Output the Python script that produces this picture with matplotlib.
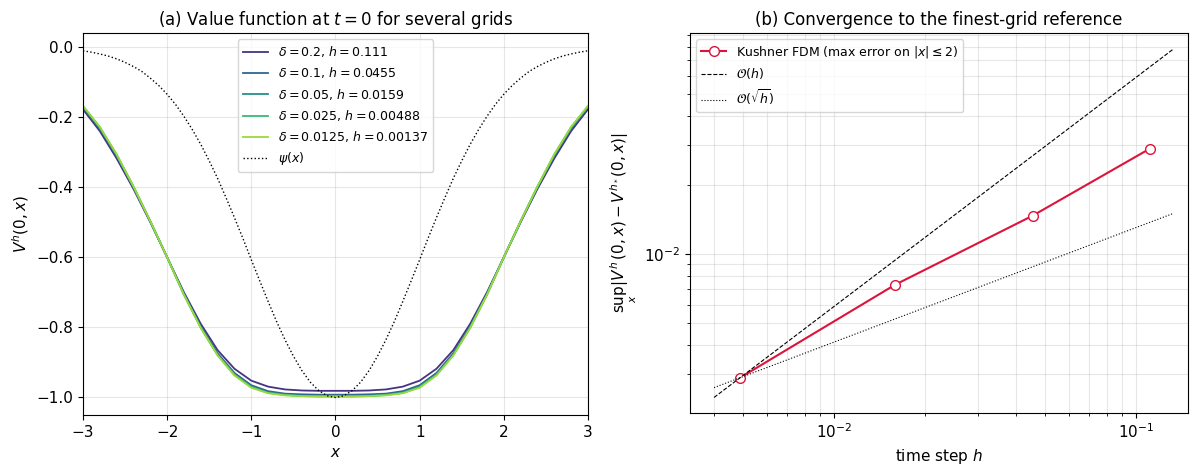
import numpy as np
import matplotlib
matplotlib.use('Agg')
import matplotlib.pyplot as plt

# grid in x (step 0.2)
x = np.round(np.arange(-3.0, 3.0001, 0.2), 2)

# value function V^h(0, x), one curve per grid
v_d0200 = [-0.178, -0.240, -0.318, -0.405, -0.500, -0.600, -0.700, -0.790, -0.865, -0.918,
           -0.952, -0.969, -0.977, -0.980, -0.981, -0.981, -0.981, -0.980, -0.977, -0.969,
           -0.952, -0.918, -0.865, -0.790, -0.700, -0.600, -0.500, -0.405, -0.318, -0.240, -0.178]
v_d0100 = [-0.172, -0.233, -0.311, -0.401, -0.498, -0.600, -0.704, -0.797, -0.874, -0.930,
           -0.965, -0.982, -0.989, -0.991, -0.992, -0.992, -0.992, -0.991, -0.989, -0.982,
           -0.965, -0.930, -0.874, -0.797, -0.704, -0.600, -0.498, -0.401, -0.311, -0.233, -0.172]
v_d0050 = [-0.170, -0.230, -0.308, -0.399, -0.497, -0.600, -0.706, -0.800, -0.878, -0.934,
           -0.969, -0.986, -0.992, -0.995, -0.996, -0.996, -0.996, -0.995, -0.992, -0.986,
           -0.969, -0.934, -0.878, -0.800, -0.706, -0.600, -0.497, -0.399, -0.308, -0.230, -0.170]
v_d0025 = [-0.169, -0.229, -0.307, -0.398, -0.497, -0.600, -0.707, -0.801, -0.879, -0.936,
           -0.971, -0.987, -0.993, -0.996, -0.997, -0.997, -0.997, -0.996, -0.993, -0.987,
           -0.971, -0.936, -0.879, -0.801, -0.707, -0.600, -0.497, -0.398, -0.307, -0.229, -0.169]
v_d0125 = [-0.168, -0.228, -0.306, -0.398, -0.497, -0.600, -0.707, -0.802, -0.880, -0.937,
           -0.972, -0.988, -0.994, -0.996, -0.997, -0.997, -0.997, -0.996, -0.994, -0.988,
           -0.972, -0.937, -0.880, -0.802, -0.707, -0.600, -0.497, -0.398, -0.306, -0.228, -0.168]

# terminal payoff psi(x), finer grid (step 0.1)
x_psi = np.round(np.arange(-3.0, 3.0001, 0.1), 2)
psi = [-0.011, -0.015, -0.020, -0.026, -0.034, -0.044, -0.056, -0.070, -0.089, -0.110,
       -0.135, -0.164, -0.198, -0.236, -0.278, -0.325, -0.375, -0.430, -0.487, -0.546,
       -0.607, -0.667, -0.726, -0.783, -0.835, -0.882, -0.923, -0.956, -0.980, -0.995,
       -1.000,
       -0.995, -0.980, -0.956, -0.923, -0.882, -0.835, -0.783, -0.726, -0.667, -0.607,
       -0.546, -0.487, -0.430, -0.375, -0.325, -0.278, -0.236, -0.198, -0.164, -0.135,
       -0.110, -0.089, -0.070, -0.056, -0.044, -0.034, -0.026, -0.020, -0.015, -0.011]

curves = [v_d0200, v_d0100, v_d0050, v_d0025, v_d0125]
labels = [r'$\delta=0.2$, $h=0.111$', r'$\delta=0.1$, $h=0.0455$',
          r'$\delta=0.05$, $h=0.0159$', r'$\delta=0.025$, $h=0.00488$',
          r'$\delta=0.0125$, $h=0.00137$']

# convergence data
h_steps = [0.111, 0.0455, 0.0159, 0.00488]
max_err = [0.0288, 0.0147, 0.00733, 0.00288]

fig = plt.figure(figsize=(11.9, 4.66), dpi=100)
ax1 = fig.add_axes([0.0697, 0.1094, 0.4244, 0.820])
ax2 = fig.add_axes([0.5798, 0.1137, 0.4185, 0.8155])

colors = plt.cm.viridis(np.linspace(0.15, 0.85, len(curves)))
for v, lab, c in zip(curves, labels, colors):
    ax1.plot(x, v, color=c, linewidth=1.3, label=lab)
ax1.plot(x_psi, psi, 'k:', linewidth=1.0, label=r'$\psi(x)$')
ax1.set_xlim(-3, 3)
ax1.set_ylim(-1.05, 0.04)
ax1.set_xlabel(r'$x$', fontsize=11)
ax1.set_ylabel(r'$V^h(0,x)$', fontsize=11)
ax1.set_title(r'(a) Value function at $t=0$ for several grids', fontsize=12)
ax1.grid(True, alpha=0.3)
ax1.tick_params(labelsize=11)
ax1.legend(loc='upper center', fontsize=9)

# convergence plot
h_arr = np.array(h_steps)
e_arr = np.array(max_err)
ax2.loglog(h_arr, e_arr, 'o-', color='crimson', markerfacecolor='white',
           markersize=7, linewidth=1.5, label=r'Kushner FDM (max error on $|x|\leq 2$)')
hh = np.array([h_arr.min() * 0.82, h_arr.max() * 1.2])
h0, e0 = h_arr.min(), e_arr[h_arr.argmin()]
ax2.loglog(hh, e0 * hh / h0, 'k--', linewidth=0.8, label=r'$\mathcal{O}(h)$')
ax2.loglog(hh, e0 * np.sqrt(hh / h0), 'k:', linewidth=0.8, label=r'$\mathcal{O}(\sqrt{h})$')
ax2.set_xlim(0.00333, 0.1486)
ax2.set_ylim(0.00202, 0.0922)
ax2.set_xlabel(r'time step $h$', fontsize=11)
ax2.set_ylabel(r'$\sup_x |V^h(0,x) - V^{h_*}(0,x)|$', fontsize=11)
ax2.set_title('(b) Convergence to the finest-grid reference', fontsize=12)
ax2.grid(True, which='both', alpha=0.3)
ax2.tick_params(labelsize=11)
ax2.legend(loc='upper left', fontsize=9)

fig.savefig('out.png', dpi=100)
